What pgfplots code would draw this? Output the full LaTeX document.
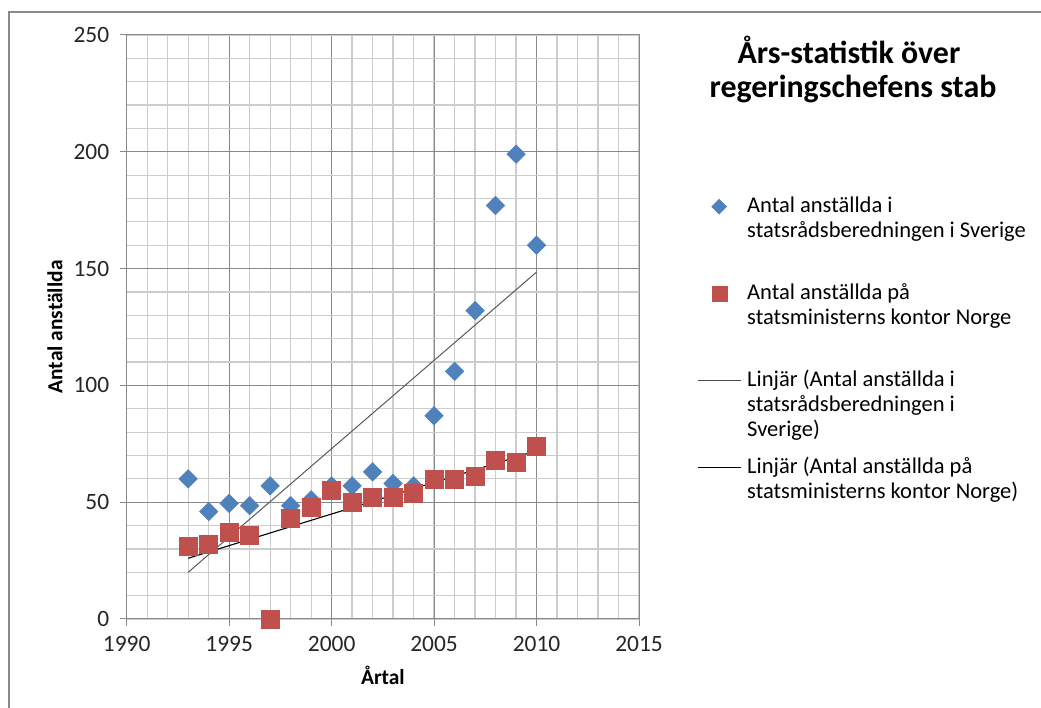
\documentclass[border=0pt]{standalone}
\usepackage{fontspec}
\setmainfont{Carlito}
\usepackage{pgfplots}
\pgfplotsset{compat=1.18}
\definecolor{sblue}{HTML}{4F81BD}
\definecolor{sred}{HTML}{C0504D}
\definecolor{majgrid}{HTML}{898989}
\definecolor{mingrid}{HTML}{CCCCCC}
\begin{document}
\begin{tikzpicture}[x=1bp,y=1bp]
\useasboundingbox (0,0) rectangle (1041,708);
\draw[color=majgrid, line width=2bp] (9,0) -- (9,696) -- (1041,696);
\node[font=\bfseries\fontsize{32}{32}\selectfont, anchor=base] at (849,644) {Års-statistik över};
\node[font=\bfseries\fontsize{32}{32}\selectfont, anchor=base] at (853,610) {regeringschefens stab};
\begin{axis}[
  at={(126.7bp,89bp)}, anchor=south west,
  scale only axis, width=512.3bp, height=584bp,
  xmin=1990, xmax=2015, ymin=0, ymax=250,
  xtick={1990,1995,...,2015}, ytick={0,50,...,250},
  minor xtick={1990,...,2015}, minor ytick={0,10,...,250},
  grid=both,
  major grid style={majgrid, line width=1bp},
  minor grid style={mingrid, line width=1.2bp},
  axis line style={majgrid, line width=1bp},
  tick pos=left, tick align=outside,
  major tick length=7bp, minor tick length=0pt,
  tick style={majgrid, line width=1bp},
  ticklabel style={font=\fontsize{23.5}{23.5}\selectfont, text=black!85},
  xticklabel style={yshift=-7bp},
  yticklabel style={xshift=-7bp},
  /pgf/number format/assume math mode=true,
  /pgf/number format/1000 sep={},
  xlabel={Årtal}, ylabel={Antal anställda},
  label style={font=\bfseries\fontsize{21.5}{21.5}\selectfont},
  xlabel style={at={(axis description cs:0.5,0)}, anchor=base, yshift=-66bp},
  ylabel style={at={(axis description cs:-0.14,0.5)}, anchor=center, rotate=0},
  legend style={at={(axis description cs:1.1132,0.72)}, anchor=north west,
    draw=none, fill=none, inner sep=0pt, row sep=70bp, column sep=6bp,
    font=\fontsize{22.6}{25}\selectfont,
    nodes={inner sep=0pt, anchor=base west, text height=14bp, text depth=3bp},
    cells={anchor=base west}},
  legend image code/.code={\draw[mark repeat=2,mark phase=2,#1] plot coordinates {(0bp,6bp) (21.5bp,6bp) (43bp,6bp)};},
]
\addlegendimage{only marks, mark=square*, mark options={fill=sblue, draw=sblue, rotate=45}, mark size=5.3bp}
\addlegendentry{\parbox[t]{300bp}{\raggedright Antal anställda i\\statsrådsberedningen i Sverige}}
\addlegendimage{only marks, mark=square*, mark options={fill=sred, draw=sred}, mark size=7.5bp}
\addlegendentry{\parbox[t]{300bp}{\raggedright Antal anställda på\\statsministerns kontor Norge}}
\addlegendimage{black!70, line width=1bp}
\addlegendentry{\parbox[t]{300bp}{\raggedright Linjär (Antal anställda i\\statsrådsberedningen i\\Sverige)}}
\addlegendimage{black, line width=1bp}
\addlegendentry{\parbox[t]{300bp}{\raggedright Linjär (Antal anställda på\\statsministerns kontor Norge)}}

\addplot[forget plot, only marks, mark=square*, mark options={fill=sblue, draw=sblue, rotate=45}, mark size=6.6bp]
coordinates {(1993,60)(1994,46)(1995,49.5)(1996,48.5)(1997,57)(1998,48.5)(1999,51)(2000,57)(2001,57)(2002,63)(2003,58)(2004,57)(2005,87)(2006,106)(2007,132)(2008,177)(2009,199)(2010,160)};
\addplot[forget plot, only marks, mark=square*, mark options={fill=sred, draw=sred}, mark size=9bp]
coordinates {(1993,31)(1994,32)(1995,37)(1996,36)(1997,0)(1998,43)(1999,48)(2000,55)(2001,50)(2002,52)(2003,52)(2004,54)(2005,60)(2006,60)(2007,61)(2008,68)(2009,67)(2010,74)};
\addplot[forget plot, black!65, line width=1bp] coordinates {(1993,20)(2010,148.5)};
\addplot[forget plot, black, line width=1.1bp] coordinates {(1993,26)(2010,72)};
\end{axis}
\end{tikzpicture}
\end{document}
